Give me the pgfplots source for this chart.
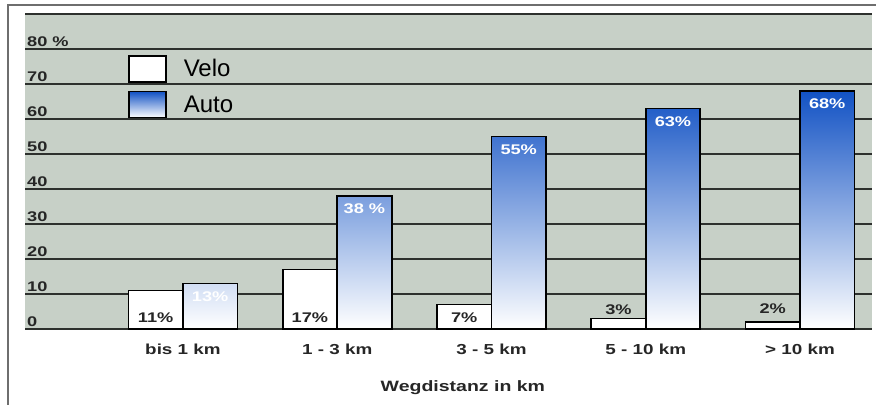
\documentclass[border=0pt]{standalone}
\usepackage{fontspec}
\setmainfont{Liberation Sans}
\newfontfamily\lb[FakeStretch=1.3]{Liberation Sans}
\usepackage{pgfplots}
\pgfplotsset{compat=1.18}
\definecolor{bgray}{RGB}{199,208,199}
\definecolor{gridc}{RGB}{45,48,45}
\definecolor{btop}{RGB}{18,82,196}
\definecolor{bmid}{RGB}{72,140,216}
\definecolor{framec}{RGB}{110,110,110}
\newcommand{\lbf}[1]{\lb\bfseries\fontsize{#1}{#1}\selectfont}
\begin{document}
\begin{tikzpicture}
\begin{axis}[
  scale only axis, width=847bp, height=315bp,
  xmin=-1.024, xmax=4.467, ymin=0, ymax=90,
  axis background/.style={fill=bgray},
  axis line style={draw=none},
  ybar=0pt, bar width=54.5bp,
  xtick={0,...,4},
  xticklabels={bis 1 km, 1 - 3 km, 3 - 5 km, 5 - 10 km, > 10 km},
  ytick={0,10,...,90},
  yticklabels={0,10,20,30,40,50,60,70,80 \%,},
  major tick length=0pt,
  ymajorgrids, grid style={gridc, line width=1.6bp},
  yticklabel style={anchor=south west, xshift=1bp, yshift=1bp, inner sep=1bp, font=\lbf{14bp}, text=black!85},
  xticklabel style={font=\lbf{14.5bp}, yshift=-11bp, text=black!85},
  /pgf/number format/assume math mode=true,
  xlabel={Wegdistanz in km},
  xlabel style={at={(axis description cs:0.517,0)}, anchor=north, yshift=-48bp, font=\lbf{15bp}, text=black!85},
  legend style={at={(axis description cs:0.1216,1)}, anchor=north west, yshift=-41bp,
    draw=none, fill=none, inner sep=0pt, row sep=8bp, column sep=17bp,
    font=\fontsize{24bp}{26bp}\selectfont, cells={anchor=west}, nodes={inner sep=0pt}},
  nodes near coords,
  point meta=explicit symbolic,
]
\addplot[draw=black, line width=1.6bp, fill=white,
  legend image code/.code={\draw[draw=black, line width=1.6bp, fill=white] (0bp,-13bp) rectangle (37bp,13bp);},
  nodes near coords={}]
  coordinates {(0,11) (1,17) (2,7) (3,3) (4,2)};
\addlegendentry{Velo}
\addplot[draw=black, line width=1.6bp, shade, top color=btop, middle color=bmid, bottom color=white,
  legend image code/.code={\draw[draw=black, line width=1.6bp, shade, top color=btop, middle color=bmid, bottom color=white] (0bp,-13bp) rectangle (37bp,13bp);},
  every node near coord/.append style={anchor=center, yshift=-13bp, text=white, font=\lbf{14bp}}]
  coordinates {(0,13) [13\%] (1,38) [38 \%] (2,55) [55\%] (3,63) [63\%] (4,68) [68\%]};
\addlegendentry{Auto}
\node[font=\lbf{14bp}, text=black!85] at (axis cs:-0.1767,3.3) {11\%};
\node[font=\lbf{14bp}, text=black!85] at (axis cs:0.8233,3.3) {17\%};
\node[font=\lbf{14bp}, text=black!85] at (axis cs:1.8233,3.3) {7\%};
\node[font=\lbf{14bp}, text=black!85] at (axis cs:2.8233,5.4) {3\%};
\node[font=\lbf{14bp}, text=black!85] at (axis cs:3.8233,5.9) {2\%};
\end{axis}
\draw[framec, line width=1.5bp] (-17bp,-76bp) -- (-17bp,324bp) -- (851bp,324bp);
\pgfresetboundingbox
\useasboundingbox (-25bp,-76bp) rectangle (851bp,329bp);
\end{tikzpicture}
\end{document}
